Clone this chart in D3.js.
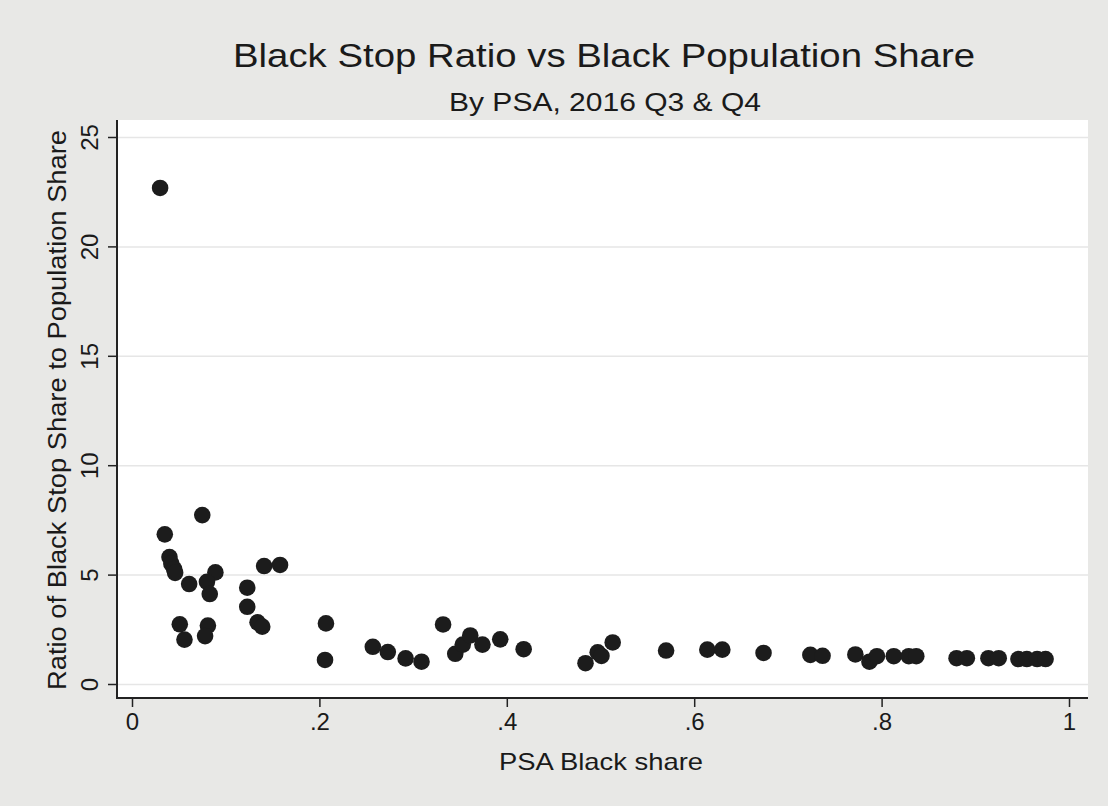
<!DOCTYPE html>
<html>
<head>
<meta charset="utf-8">
<script src="https://cdn.jsdelivr.net/npm/d3@7"></script>
<style>
  html, body { margin: 0; padding: 0; background: #e8e8e6; }
  svg { display: block; }
  text { font-family: "Liberation Sans", Arial, Helvetica, sans-serif; fill: #1a1a1a; }
</style>
</head>
<body>
<svg id="chart" width="1108" height="806"></svg>
<script>
// ---- data ----
const blackShare = [0.030, 0.035, 0.075, 0.040, 0.042, 0.045, 0.046, 0.061, 0.089, 0.080,
  0.083, 0.051, 0.056, 0.081, 0.078, 0.123, 0.123, 0.134, 0.139, 0.141,
  0.158, 0.207, 0.206, 0.257, 0.273, 0.292, 0.309, 0.332, 0.345, 0.353,
  0.361, 0.374, 0.393, 0.418, 0.484, 0.497, 0.501, 0.513, 0.570, 0.614,
  0.630, 0.674, 0.724, 0.737, 0.772, 0.787, 0.795, 0.813, 0.829, 0.837,
  0.880, 0.891, 0.914, 0.925, 0.946, 0.955, 0.966, 0.975];
const stopRatio = [22.67, 6.84, 7.72, 5.80, 5.50, 5.25, 5.08, 4.57, 5.10, 4.67,
  4.11, 2.73, 2.03, 2.67, 2.19, 4.40, 3.53, 2.82, 2.62, 5.39,
  5.44, 2.77, 1.10, 1.70, 1.46, 1.17, 1.02, 2.72, 1.38, 1.80,
  2.22, 1.80, 2.04, 1.59, 0.95, 1.45, 1.28, 1.90, 1.53, 1.57,
  1.57, 1.42, 1.33, 1.29, 1.35, 1.02, 1.27, 1.27, 1.27, 1.27,
  1.18, 1.18, 1.18, 1.18, 1.14, 1.14, 1.14, 1.14];
const xTicks = [0, 0.2, 0.4, 0.6, 0.8, 1];
const yTicks = [0, 5, 10, 15, 20, 25];
const titleText = "Black Stop Ratio vs Black Population Share";
const subtitleText = "By PSA, 2016 Q3 & Q4";
const xTitle = "PSA Black share";
const yTitle = "Ratio of Black Stop Share to Population Share";

// ---- layout ----
const svg = d3.select("#chart");
const plot = { left: 117, right: 1088, top: 120, bottom: 698 };

const x = d3.scaleLinear().domain([0, 1]).range([132, 1069]);
const y = d3.scaleLinear().domain([0, 25]).range([684, 137]);

const fmt = d => d === 0 ? "0" : d === 1 ? "1" : d3.format(".1f")(d).replace(/^0/, "");

// background
svg.append("rect").attr("x", 0).attr("y", 0).attr("width", 1108).attr("height", 806)
  .attr("fill", "#e8e8e6");
svg.append("rect").attr("x", plot.left).attr("y", plot.top)
  .attr("width", plot.right - plot.left).attr("height", plot.bottom - plot.top)
  .attr("fill", "#ffffff");

// gridlines
const grid = svg.append("g").attr("transform", `translate(${plot.left},0)`)
  .call(d3.axisLeft(y).tickValues(yTicks).tickSize(-(plot.right - plot.left)).tickFormat(""));
grid.select(".domain").remove();
grid.selectAll(".tick line").attr("stroke", "#e6e6e6").attr("stroke-width", 1.5);

// y axis
const yAxis = svg.append("g").attr("transform", `translate(${plot.left},0)`)
  .call(d3.axisLeft(y).tickValues(yTicks).tickSize(9).tickPadding(4).tickFormat(d3.format("d")));
yAxis.select(".domain").remove();
yAxis.selectAll(".tick line").attr("stroke", "#222").attr("stroke-width", 1.5);
yAxis.selectAll(".tick text")
  .attr("font-size", 24)
  .attr("fill", "#1a1a1a")
  .attr("x", 0).attr("dy", 0)
  .attr("text-anchor", "middle")
  .attr("transform", "translate(-19,0) rotate(-90)");

// x axis
const xAxis = svg.append("g").attr("transform", `translate(0,${plot.bottom})`)
  .call(d3.axisBottom(x).tickValues(xTicks).tickSize(9).tickPadding(6).tickFormat(fmt));
xAxis.select(".domain").remove();
xAxis.selectAll(".tick line").attr("stroke", "#222").attr("stroke-width", 1.5);
xAxis.selectAll(".tick text").attr("font-size", 24).attr("fill", "#1a1a1a");

// axis lines
svg.append("line").attr("x1", plot.left).attr("x2", plot.left)
  .attr("y1", plot.top).attr("y2", plot.bottom + 1)
  .attr("stroke", "#222").attr("stroke-width", 2);
svg.append("line").attr("x1", plot.left - 1).attr("x2", plot.right)
  .attr("y1", plot.bottom).attr("y2", plot.bottom)
  .attr("stroke", "#222").attr("stroke-width", 2);

// points
const pts = blackShare.map((v, i) => ({ x: v, y: stopRatio[i] }));
svg.append("g").selectAll("circle").data(pts).join("circle")
  .attr("cx", d => x(d.x)).attr("cy", d => y(d.y)).attr("r", 8.3)
  .attr("fill", "#1c1c1c");

// titles
svg.append("text").attr("x", 604).attr("y", 67).attr("text-anchor", "middle")
  .attr("font-size", 34).attr("textLength", 742).attr("lengthAdjust", "spacingAndGlyphs")
  .text(titleText);
svg.append("text").attr("x", 605).attr("y", 111).attr("text-anchor", "middle")
  .attr("font-size", 25).attr("textLength", 312).attr("lengthAdjust", "spacingAndGlyphs")
  .text(subtitleText);
svg.append("text").attr("x", 601).attr("y", 770).attr("text-anchor", "middle")
  .attr("font-size", 24).attr("textLength", 204).attr("lengthAdjust", "spacingAndGlyphs")
  .text(xTitle);
svg.append("text").attr("transform", "translate(66,410) rotate(-90)").attr("text-anchor", "middle")
  .attr("font-size", 25).attr("textLength", 560).attr("lengthAdjust", "spacingAndGlyphs")
  .text(yTitle);
</script>
</body>
</html>
